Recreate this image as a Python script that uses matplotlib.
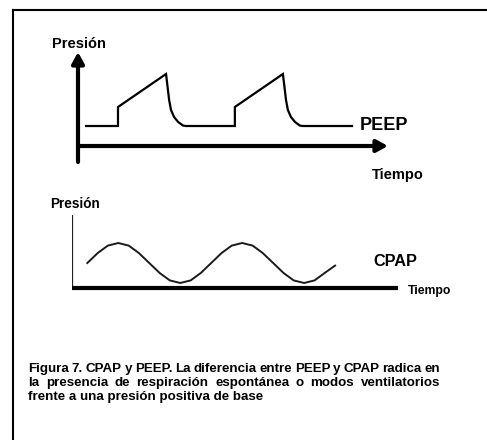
import matplotlib
matplotlib.use("Agg")
import matplotlib.pyplot as plt
from matplotlib.lines import Line2D

W, H = 487, 440

# PEEP waveform (time units, pressure units)
peep_t = [0.26, 1.29, 1.29, 2.84, 2.94, 3.00, 3.10, 3.23, 3.39, 3.48,
          5.06, 5.06, 6.61, 6.71, 6.77, 6.87, 7.00, 7.16, 7.25, 8.84]
peep_p = [5.0, 5.0, 9.75, 18.0, 11.5, 9.0, 7.25, 6.0, 5.1, 5.0,
          5.0, 9.75, 18.0, 11.5, 9.0, 7.25, 6.0, 5.1, 5.0, 5.0]

# CPAP waveform
cpap_t = [0.47, 0.79, 1.10, 1.42, 1.74, 2.05, 2.37, 2.69, 3.00, 3.32, 3.64, 3.95,
          4.27, 4.59, 4.90, 5.22, 5.54, 5.85, 6.17, 6.49, 6.80, 7.12, 7.44, 7.75, 8.07]
cpap_p = [6.25, 8.75, 10.6, 11.25, 10.6, 8.75, 6.25, 3.75, 1.9, 1.25, 1.9, 3.75,
          6.25, 8.75, 10.6, 11.25, 10.6, 8.75, 6.25, 3.75, 1.9, 1.25, 1.9, 3.75, 5.6]

caption_lines = [
    "Figura 7. CPAP y PEEP. La diferencia entre PEEP y CPAP radica en",
    "la presencia de respiración espontánea o modos ventilatorios",
    "frente a una presión positiva de base",
]

LABEL_FONT = ["Liberation Sans", "DejaVu Sans"]
CAPTION_FONT = ["Liberation Sans Narrow", "Liberation Sans", "DejaVu Sans"]


def fx(x):
    return x / W


def fy(y):
    return 1 - y / H


fig = plt.figure(figsize=(W / 100, H / 100), dpi=100)
fig.patch.set_facecolor("white")

# frame (only top and left edges visible)
fig.add_artist(Line2D([fx(12.5), fx(487)], [fy(10), fy(10)], color="black", lw=1.5))
fig.add_artist(Line2D([fx(12.5), fx(12.5)], [fy(10), fy(440)], color="black", lw=1.5))

# ---- top diagram: PEEP ----
ax1 = fig.add_axes([fx(78), fy(162), fx(388) - fx(78), fy(52) - fy(162)])
ax1.set_xlim(0, 10)
ax1.set_ylim(-4, 23.5)
ax1.axis("off")
ax1.plot(peep_t, peep_p, color="black", lw=1.6, solid_joinstyle="miter")
arrow = dict(arrowstyle="-|>,head_length=0.55,head_width=0.3", lw=3, color="black",
             shrinkA=0, shrinkB=0, mutation_scale=12)
ax1.annotate("", xy=(0, 23.5), xytext=(0, -4), arrowprops=arrow, annotation_clip=False)
ax1.annotate("", xy=(10, 0), xytext=(0, 0), arrowprops=arrow, annotation_clip=False)

fig.text(fx(52), fy(44), "Presión", fontsize=10.5, fontweight="bold", family=LABEL_FONT,
         va="center", ha="left")
fig.text(fx(372), fy(175), "Tiempo", fontsize=10.5, fontweight="bold", family=LABEL_FONT,
         va="center", ha="left")
fig.text(fx(360), fy(126), "PEEP", fontsize=13, fontweight="bold", family=LABEL_FONT,
         va="center", ha="left")

# ---- bottom diagram: CPAP ----
ax2 = fig.add_axes([fx(72), fy(292), fx(398) - fx(72), fy(215) - fy(292)])
ax2.set_xlim(0, 10)
ax2.set_ylim(-1, 18.25)
ax2.axis("off")
ax2.plot([0, 0], [0, 18.25], color="#222222", lw=1.6, solid_capstyle="butt")
ax2.plot([0, 10], [0, 0], color="black", lw=3, solid_capstyle="butt")
ax2.plot(cpap_t, cpap_p, color="#1a1a1a", lw=1.4)

fig.text(fx(50), fy(204), "Presión", fontsize=9.8, fontweight="bold", family=LABEL_FONT,
         va="center", ha="left")
fig.text(fx(373), fy(261), "CPAP", fontsize=11.7, fontweight="bold", family=LABEL_FONT,
         va="center", ha="left")
fig.text(fx(408), fy(291), "Tiempo", fontsize=8.8, fontweight="bold", family=LABEL_FONT,
         va="center", ha="left")

# ---- caption, justified on the first two lines ----
left_px, right_px = 28, 440
baselines = [372, 386, 400]
cap_size = 9.6
renderer = fig.canvas.get_renderer()
for i, (line, base) in enumerate(zip(caption_lines, baselines)):
    words = line.split(" ")
    if i == len(caption_lines) - 1:
        fig.text(fx(left_px), fy(base), line, fontsize=cap_size, fontweight="bold",
                 family=CAPTION_FONT, va="baseline", ha="left")
        continue
    items = [fig.text(0, fy(base), w, fontsize=cap_size, fontweight="bold",
                      family=CAPTION_FONT, va="baseline", ha="left") for w in words]
    widths = [t.get_window_extent(renderer).width for t in items]
    gap = (right_px - left_px - sum(widths)) / (len(words) - 1)
    x = left_px
    for t, wd in zip(items, widths):
        t.set_x(fx(x))
        x += wd + gap

fig.savefig("out.png", dpi=100, facecolor="white")
